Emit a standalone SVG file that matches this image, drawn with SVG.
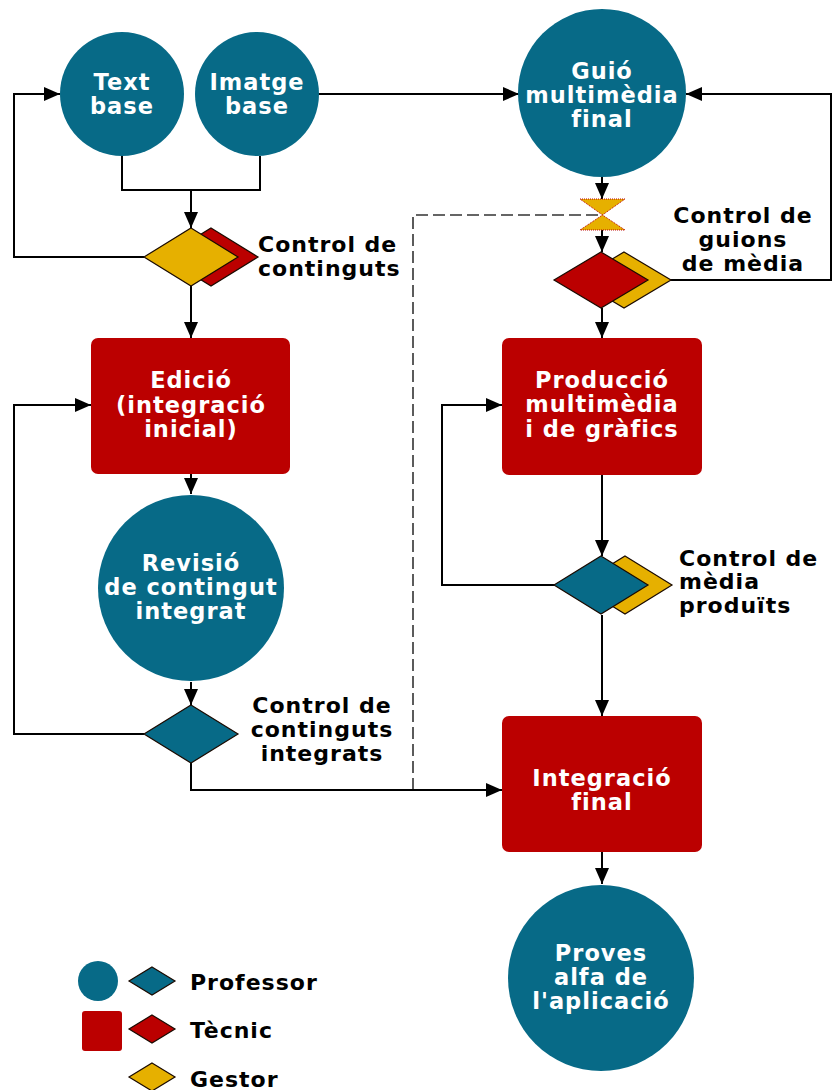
<svg xmlns="http://www.w3.org/2000/svg" width="833" height="1090" viewBox="0 0 833 1090">
  <defs>
    <marker id="arrow" markerUnits="userSpaceOnUse" markerWidth="16" markerHeight="14" refX="16" refY="7" orient="auto">
      <path d="M0,0 L16,7 L0,14 z" fill="#000"/>
    </marker>
    <style>
      .prof { fill: #076a87; }
      .tec { fill: #bb0000; }
      .gest { fill: #e6b000; }
      .dia { stroke: #1a0a00; stroke-width: 1.2; stroke-linejoin: miter; }
      .conn { fill: none; stroke: #000; stroke-width: 2; }
      .dash { fill: none; stroke: #333; stroke-width: 1.6; stroke-dasharray: 12 5; }
      .in { font-family: "DejaVu Sans", Verdana, sans-serif; font-weight: bold; font-size: 22.5px; letter-spacing: 1px; fill: #fff; text-anchor: middle; }
      .lbl { font-family: "DejaVu Sans", Verdana, sans-serif; font-weight: bold; font-size: 22px; letter-spacing: 1px; fill: #000; }
    </style>
  </defs>
  <rect width="833" height="1090" fill="#fff"/>

  <!-- connectors -->
  <g id="connectors">
    <path class="conn" d="M122,156 V190 H260 V156"/>
    <path class="conn" d="M191,190 V228" marker-end="url(#arrow)"/>
    <path class="conn" d="M144,257 H14 V94 H60" marker-end="url(#arrow)"/>
    <path class="conn" d="M318,94 H519" marker-end="url(#arrow)"/>
    <path class="conn" d="M670,280 H831 V94 H686" marker-end="url(#arrow)"/>
    <path class="conn" d="M602,177 V199" marker-end="url(#arrow)"/>
    <path class="conn" d="M602,230 V252" marker-end="url(#arrow)"/>
    <path class="conn" d="M602,308 V338" marker-end="url(#arrow)"/>
    <path class="conn" d="M602,475 V556" marker-end="url(#arrow)"/>
    <path class="conn" d="M555,585 H442 V405 H502" marker-end="url(#arrow)"/>
    <path class="conn" d="M602,615 V716" marker-end="url(#arrow)"/>
    <path class="conn" d="M602,852 V884" marker-end="url(#arrow)"/>
    <path class="dash" d="M413,790 V215 H598"/>
    <path class="conn" d="M191,286 V338" marker-end="url(#arrow)"/>
    <path class="conn" d="M191,474 V494" marker-end="url(#arrow)"/>
    <path class="conn" d="M191,682 V705" marker-end="url(#arrow)"/>
    <path class="conn" d="M144,734 H14 V405 H91" marker-end="url(#arrow)"/>
    <path class="conn" d="M191,763 V790 H502" marker-end="url(#arrow)"/>
  </g>

  <!-- left column -->
  <g id="text-base">
    <circle class="prof" cx="122" cy="94" r="62"/>
    <text class="in" x="122" y="90">Text</text>
    <text class="in" x="122" y="114">base</text>
  </g>
  <g id="imatge-base">
    <circle class="prof" cx="257" cy="94" r="62"/>
    <text class="in" x="257" y="90">Imatge</text>
    <text class="in" x="257" y="114">base</text>
  </g>
  <g id="control-continguts">
    <polygon class="tec dia" points="211,228 258,257 211,286 164,257"/>
    <polygon class="gest dia" points="191,228 238,257 191,286 144,257"/>
    <text class="lbl" x="258" y="252">Control de</text>
    <text class="lbl" x="258" y="276">continguts</text>
  </g>
  <g id="edicio">
    <rect class="tec" x="91" y="338" width="199" height="136" rx="7"/>
    <text class="in" x="191" y="388">Edició</text>
    <text class="in" x="191" y="413">(integració</text>
    <text class="in" x="191" y="437">inicial)</text>
  </g>
  <g id="revisio">
    <circle class="prof" cx="191" cy="588" r="93"/>
    <text class="in" x="191" y="571">Revisió</text>
    <text class="in" x="191" y="595">de contingut</text>
    <text class="in" x="191" y="619">integrat</text>
  </g>
  <g id="control-integrats">
    <polygon class="prof dia" points="191,705 238,734 191,763 144,734"/>
    <text class="lbl" x="322" y="713" text-anchor="middle">Control de</text>
    <text class="lbl" x="322" y="737" text-anchor="middle">continguts</text>
    <text class="lbl" x="322" y="761" text-anchor="middle">integrats</text>
  </g>

  <!-- right column -->
  <g id="guio">
    <circle class="prof" cx="602" cy="93" r="84"/>
    <text class="in" x="602" y="79">Guió</text>
    <text class="in" x="602" y="103">multimèdia</text>
    <text class="in" x="602" y="127">final</text>
  </g>
  <g id="fusio">
    <polygon class="gest" points="580,199 625,199 602.5,215" stroke="#b00" stroke-width="1" stroke-dasharray="1 1"/>
    <polygon class="gest" points="602.5,215 625,230 580,230" stroke="#b00" stroke-width="1" stroke-dasharray="1 1"/>
  </g>
  <g id="control-guions">
    <polygon class="gest dia" points="624,252 671,280 624,308 577,280"/>
    <polygon class="tec dia" points="601,252 648,280 601,308 554,280"/>
    <text class="lbl" x="743" y="223" text-anchor="middle">Control de</text>
    <text class="lbl" x="743" y="247" text-anchor="middle">guions</text>
    <text class="lbl" x="743" y="271" text-anchor="middle">de mèdia</text>
  </g>
  <g id="produccio">
    <rect class="tec" x="502" y="338" width="200" height="137" rx="7"/>
    <text class="in" x="602" y="388">Producció</text>
    <text class="in" x="602" y="412">multimèdia</text>
    <text class="in" x="602" y="437">i de gràfics</text>
  </g>
  <g id="control-media">
    <polygon class="gest dia" points="625,556 672,585 625,614 578,585"/>
    <polygon class="prof dia" points="601,556 648,585 601,614 554,585"/>
    <text class="lbl" x="679" y="566">Control de</text>
    <text class="lbl" x="679" y="589">mèdia</text>
    <text class="lbl" x="679" y="613">produïts</text>
  </g>
  <g id="integracio">
    <rect class="tec" x="502" y="716" width="200" height="136" rx="7"/>
    <text class="in" x="602" y="786">Integració</text>
    <text class="in" x="602" y="810">final</text>
  </g>
  <g id="proves">
    <circle class="prof" cx="601" cy="978" r="93"/>
    <text class="in" x="601" y="961">Proves</text>
    <text class="in" x="601" y="985">alfa de</text>
    <text class="in" x="601" y="1009">l'aplicació</text>
  </g>

  <!-- legend -->
  <g id="legend">
    <circle class="prof" cx="98" cy="981" r="20"/>
    <polygon class="prof dia" points="152,967 175,981 152,995 129,981"/>
    <text class="lbl" x="190" y="990">Professor</text>
    <rect class="tec" x="82" y="1011" width="40" height="40" rx="3"/>
    <polygon class="tec dia" points="152,1015 175,1029 152,1043 129,1029"/>
    <text class="lbl" x="190" y="1038">Tècnic</text>
    <polygon class="gest dia" points="152,1063 175,1077 152,1091 129,1077"/>
    <text class="lbl" x="190" y="1087">Gestor</text>
  </g>
</svg>
